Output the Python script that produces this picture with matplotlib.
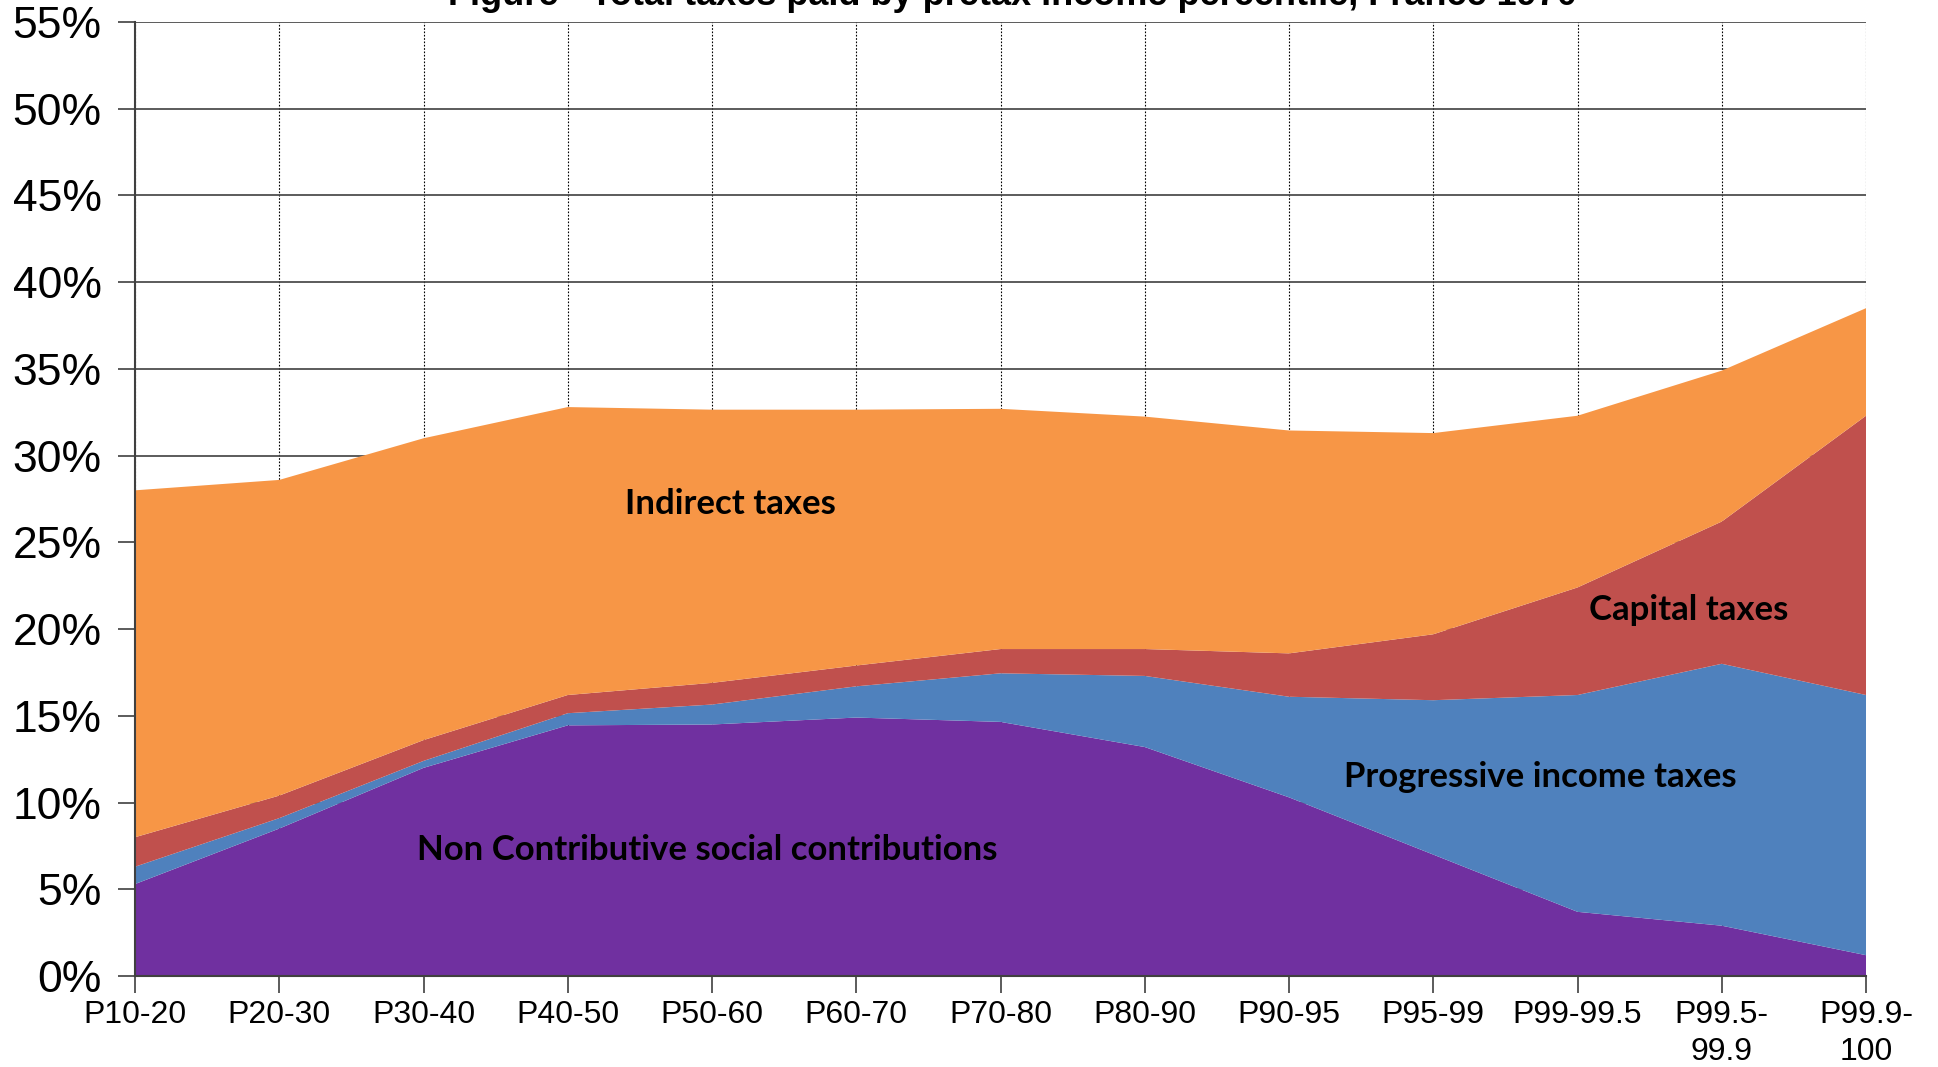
import matplotlib
matplotlib.use("Agg")
import matplotlib.pyplot as plt
import numpy as np

categories = ["P10-20", "P20-30", "P30-40", "P40-50", "P50-60", "P60-70", "P70-80",
              "P80-90", "P90-95", "P95-99", "P99-99.5", "P99.5-\n99.9", "P99.9-\n100"]

# tax rates (% of pretax income) by component
non_contrib = [5.3, 8.5, 12.0, 14.45, 14.5, 14.9, 14.65, 13.2, 10.3, 7.0, 3.7, 2.9, 1.2]
progressive = [1.0, 0.6, 0.4, 0.7, 1.15, 1.8, 2.8, 4.1, 5.8, 8.9, 12.5, 15.1, 15.0]
capital = [1.7, 1.3, 1.2, 1.05, 1.25, 1.2, 1.4, 1.55, 2.5, 3.8, 6.2, 8.2, 16.1]
indirect = [20.0, 18.2, 17.4, 16.6, 15.75, 14.75, 13.85, 13.4, 12.85, 11.6, 9.9, 8.7, 6.2]

colors = ["#7030A0", "#4F81BD", "#C0504D", "#F79646"]

fig = plt.figure(figsize=(19.38, 10.67), dpi=100)
ax = fig.add_axes([135 / 1938, 1 - 976 / 1067, (1866 - 135) / 1938, (976 - 22) / 1067])

x = np.arange(len(categories))
ax.stackplot(x, non_contrib, progressive, capital, indirect, colors=colors, zorder=2)

ax.set_xlim(0, len(categories) - 1)
ax.set_ylim(0, 55)
ax.set_yticks(np.arange(0, 56, 5))
ax.set_yticklabels([f"{v}%" for v in range(0, 56, 5)], fontsize=32, family="Liberation Sans")
ax.set_xticks(x)
ax.set_xticklabels(categories, fontsize=23, family="Liberation Sans", linespacing=1.3)

ax.grid(axis="y", color="#404040", linewidth=1.2, zorder=1)
ax.grid(axis="x", color="black", linewidth=0.8, linestyle=(0, (1.5, 1.5)), zorder=1)
ax.set_axisbelow(True)
ax.tick_params(axis="both", direction="out", length=12, width=1.2, color="#404040")
ax.tick_params(axis="x", pad=5)
ax.tick_params(axis="y", pad=12)
for side in ["left", "bottom"]:
    ax.spines[side].set_color("#404040")
    ax.spines[side].set_linewidth(1.5)
for side in ["top", "right"]:
    ax.spines[side].set_visible(False)

lab = dict(fontsize=25, fontweight="bold", family=["Lato", "DejaVu Sans"],
           ha="center", va="center", color="black", zorder=3)
ax.text(4.13, 27.2, "Indirect taxes", **lab)
ax.text(10.77, 21.1, "Capital taxes", **lab)
ax.text(9.74, 11.5, "Progressive income taxes", **lab)
ax.text(3.97, 7.26, "Non Contributive social contributions", **lab)

fig.text(1012 / 1938, 1 - 5 / 1067, "Figure - Total taxes paid by pretax income percentile, France 1970",
         ha="center", va="baseline", fontsize=26, fontweight="bold", family="Liberation Sans")

fig.savefig("out.png", dpi=100, facecolor="white")
